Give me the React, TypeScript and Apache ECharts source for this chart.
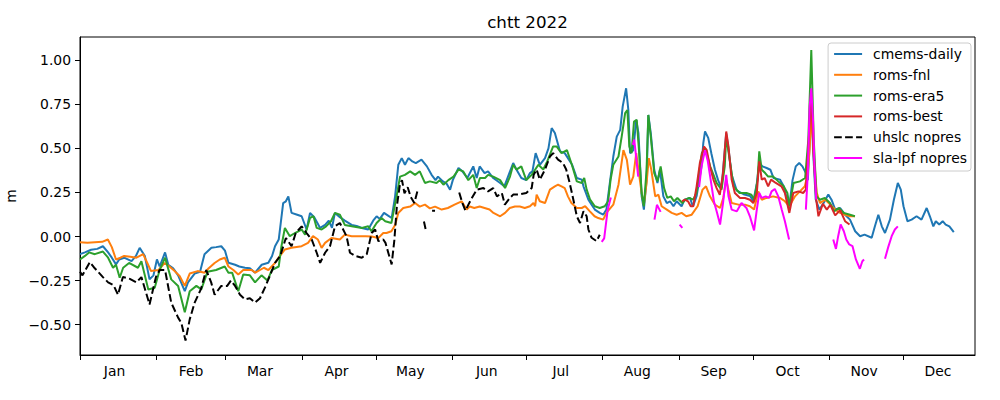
import React, { useEffect, useRef } from "react";
import * as echarts from "echarts";

// x = day of year 2022 (0 = 1 Jan), y = metres; null marks a gap
const cmemsDaily = [
  [0,-0.10],[2,-0.09],[4.5,-0.075],[7,-0.07],[9.3,-0.055],[11.4,-0.09],[12.9,-0.12],[14.6,-0.158],[15.9,-0.13],[17.9,-0.12],[20.9,-0.14],[22.7,-0.11],[24.2,-0.064],[26.3,-0.11],[28.2,-0.243],[29.8,-0.22],[31.2,-0.13],[32.3,-0.17],[34.5,-0.09],[35.8,-0.16],[37.8,-0.18],[39.8,-0.22],[42.5,-0.31],[43.8,-0.26],[46.5,-0.21],[48.7,-0.20],[50.5,-0.10],[53.3,-0.064],[55.2,-0.06],[57.3,-0.055],[58.8,-0.08],[60.2,-0.149],[62.9,-0.16],[64.6,-0.17],[66.9,-0.177],[68.9,-0.18],[71.0,-0.205],[73.7,-0.16],[76.4,-0.149],[77.9,-0.11],[79.1,-0.055],[80.6,-0.017],[82.4,0.19],[83.5,0.2],[84.5,0.228],[85.8,0.134],[87.8,0.125],[89.9,0.115],[91.9,0.04],[93.3,0.134],[95.0,0.11],[97.4,0.049],[99.4,0.066],[100.9,0.09],[102.2,0.05],[103.4,0.134],[105.4,0.11],[107.4,0.09],[110.2,0.066],[112.2,0.06],[114.3,0.049],[116.9,0.04],[118.9,0.09],[120.3,0.115],[121.6,0.10],[123.3,0.134],[124.8,0.12],[126.4,0.105],[127.8,0.228],[129.1,0.407],[130.5,0.445],[131.8,0.407],[133.2,0.445],[134.8,0.426],[136.2,0.417],[138.5,0.436],[140.7,0.398],[142.6,0.35],[144.2,0.32],[145.2,0.34],[147.2,0.313],[148.7,0.3],[150.1,0.266],[151.2,0.32],[153.5,0.389],[155.1,0.37],[157.1,0.332],[159.5,0.398],[160.9,0.332],[162.1,0.398],[164.1,0.36],[165.5,0.37],[167.6,0.332],[170.4,0.304],[172.1,0.285],[173.6,0.34],[175.7,0.417],[177.0,0.38],[179.0,0.332],[181.0,0.32],[182.5,0.36],[183.5,0.37],[184.8,0.473],[186.5,0.407],[188.6,0.445],[190.0,0.5],[191.3,0.615],[192.6,0.587],[194.7,0.483],[196.6,0.473],[197.9,0.445],[199.6,0.407],[201.5,0.332],[203.5,0.323],[204.2,0.285],[206.2,0.209],[207.5,0.181],[208.8,0.153],[210.8,0.134],[212.2,0.124],[213.5,0.153],[214.9,0.304],[216.3,0.454],[217.7,0.567],[219.1,0.605],[220.1,0.737],[221.5,0.841],[222.4,0.718],[223.1,0.473],[224.4,0.49],[225.6,0.662],[226.5,0.587],[227.8,0.228],[228.7,0.153],[229.8,0.323],[230.5,0.69],[231.5,0.587],[232.9,0.379],[234.2,0.304],[235.2,0.379],[236.6,0.228],[238.0,0.19],[239.3,0.2],[240.7,0.172],[242.0,0.2],[244.0,0.172],[245.2,0.209],[247.4,0.219],[248.6,0.17],[250.1,0.23],[252.1,0.40],[252.8,0.53],[253.5,0.596],[254.8,0.56],[256.1,0.47],[257.5,0.38],[258.8,0.32],[260.2,0.275],[261.2,0.44],[262.1,0.585],[263.0,0.5],[264.3,0.35],[266.4,0.26],[269.1,0.24],[271.8,0.23],[273.1,0.2],[274.5,0.30],[275.5,0.417],[276.8,0.398],[278.5,0.389],[280.0,0.379],[281.3,0.332],[283.9,0.323],[285.4,0.285],[287.6,0.162],[289.0,0.32],[290.3,0.398],[291.7,0.417],[293.0,0.398],[294.4,0.36],[295.2,0.32],[296.0,0.55],[296.6,0.8],[297.3,0.5],[298.4,0.21],[299.9,0.153],[301.6,0.19],[303.5,0.238],[304.8,0.209],[306.3,0.153],[308.3,0.162],[310.3,0.124],[312.3,0.096],[314.4,0.03],[316.4,0.002],[318.2,0.011],[321.1,-0.007],[322.4,0.058],[323.8,0.124],[325.2,0.058],[326.5,0.02],[328.5,0.096],[330.1,0.209],[331.7,0.304],[332.9,0.266],[334.0,0.172],[335.6,0.087],[337.3,0.096],[339.3,0.115],[341.3,0.096],[343.4,0.162],[344.7,0.115],[346.1,0.058],[347.1,0.087],[348.5,0.068],[349.9,0.087],[351.1,0.068],[352.6,0.058],[354.4,0.025]
];

const romsFnl = [
  [0,-0.032],[3,-0.035],[6,-0.032],[9,-0.03],[11.3,-0.017],[12.9,-0.06],[14.6,-0.13],[16.4,-0.12],[17.9,-0.11],[20.4,-0.115],[22.9,-0.12],[25.6,-0.10],[27.3,-0.15],[28.8,-0.196],[31.8,-0.19],[34.3,-0.15],[36.3,-0.17],[38.4,-0.196],[40.4,-0.224],[42.5,-0.28],[44.5,-0.21],[47.7,-0.196],[50.5,-0.205],[52.2,-0.18],[54.6,-0.15],[56.7,-0.13],[58.7,-0.12],[60.2,-0.17],[62.2,-0.19],[64.2,-0.215],[66.2,-0.19],[69.6,-0.19],[71.1,-0.205],[74.6,-0.177],[76.4,-0.19],[79.1,-0.149],[81.1,-0.11],[83.1,-0.073],[85.8,-0.064],[89.9,-0.055],[92.5,-0.036],[94.5,0.002],[96.5,-0.017],[98.0,-0.064],[99.4,-0.036],[102.0,-0.008],[105.4,-0.017],[107.4,0.011],[110.2,0.002],[113.4,0.002],[115.9,0.002],[118.3,0.0],[121.0,-0.008],[123.0,0.02],[124.3,0.02],[126.3,0.03],[127.8,0.066],[129.1,0.134],[131.1,0.162],[133.9,0.17],[135.9,0.19],[137.8,0.17],[139.9,0.181],[141.9,0.16],[144.0,0.17],[146.7,0.153],[149.2,0.162],[151.9,0.181],[154.8,0.2],[156.8,0.153],[158.1,0.17],[159.9,0.162],[162.1,0.17],[164.1,0.162],[166.1,0.153],[167.7,0.134],[170.4,0.115],[172.4,0.134],[174.3,0.162],[176.4,0.17],[178.4,0.17],[180.4,0.162],[182.5,0.172],[183.9,0.19],[184.6,0.172],[185.2,0.238],[186.5,0.2],[188.6,0.19],[190.6,0.266],[192.6,0.285],[193.9,0.294],[195.3,0.285],[196.6,0.275],[197.9,0.228],[199.3,0.19],[201.5,0.162],[203.5,0.162],[204.9,0.172],[206.8,0.143],[208.7,0.115],[210.2,0.105],[212.2,0.096],[213.5,0.134],[216.3,0.181],[218.4,0.294],[220.4,0.49],[221.8,0.435],[223.1,0.294],[224.4,0.34],[225.6,0.473],[226.5,0.38],[227.8,0.247],[228.7,0.181],[229.8,0.304],[230.7,0.445],[231.7,0.38],[233.3,0.228],[234.6,0.237],[235.9,0.172],[238.0,0.153],[240.0,0.134],[242.0,0.124],[244.0,0.134],[245.9,0.115],[248.1,0.124],[250.5,0.172],[252.5,0.266],[253.9,0.285],[255.5,0.228],[257.5,0.181],[259.6,0.162],[260.9,0.219],[262.1,0.323],[263.0,0.266],[264.3,0.19],[267.1,0.181],[269.7,0.181],[271.7,0.172],[273.4,0.153],[275.1,0.256],[276.5,0.209],[278.4,0.219],[281.1,0.228],[283.9,0.219],[285.9,0.2],[287.7,0.172],[290.0,0.228],[292.0,0.256],[294.0,0.285],[295.2,0.36],[295.9,0.49],[296.6,0.7],[297.7,0.45],[298.8,0.25],[300.1,0.19],[302.3,0.209],[304.3,0.181],[306.3,0.153],[308.3,0.134],[310.3,0.124],[312.3,0.115],[314.3,0.115]
];

const romsEra5 = [
  [0,-0.13],[2,-0.11],[3.7,-0.09],[6,-0.10],[9.3,-0.085],[11.4,-0.12],[13.4,-0.177],[14.6,-0.16],[16.1,-0.234],[17.5,-0.177],[19.9,-0.15],[23.5,-0.177],[24.9,-0.14],[27.7,-0.30],[30.3,-0.29],[32.3,-0.19],[34.5,-0.12],[37.0,-0.243],[39.8,-0.28],[42.5,-0.43],[44.5,-0.31],[47.2,-0.28],[49.2,-0.30],[51.7,-0.20],[55.2,-0.19],[58.7,-0.17],[60.2,-0.205],[61.7,-0.205],[64.2,-0.31],[66.2,-0.215],[68.9,-0.22],[71.0,-0.26],[73.6,-0.22],[76.0,-0.25],[77.8,-0.19],[80.6,-0.17],[81.7,-0.055],[83.1,0.049],[85.1,0.002],[87.2,0.02],[89.9,0.04],[91.3,0.011],[93.3,0.106],[94.7,0.115],[96.0,0.049],[98.0,0.04],[99.8,0.058],[101.8,0.087],[103.4,0.134],[105.4,0.124],[107.4,0.066],[110.2,0.058],[114.3,0.049],[116.9,0.058],[118.2,0.03],[120.3,0.077],[122.3,0.105],[123.8,0.087],[126.3,0.077],[128.4,0.228],[129.8,0.34],[131.8,0.35],[133.9,0.37],[135.9,0.35],[137.8,0.37],[139.9,0.304],[141.9,0.313],[144.6,0.304],[145.9,0.32],[147.4,0.294],[149.4,0.32],[151.5,0.34],[153.5,0.38],[155.4,0.37],[157.5,0.32],[159.5,0.35],[160.9,0.275],[162.2,0.332],[164.3,0.332],[165.5,0.35],[167.6,0.34],[170.4,0.32],[172.4,0.275],[174.4,0.34],[175.7,0.407],[177.0,0.38],[179.0,0.398],[181.0,0.32],[183.2,0.35],[185.9,0.407],[187.9,0.38],[189.5,0.426],[191.9,0.511],[193.3,0.511],[195.3,0.473],[197.5,0.49],[199.5,0.407],[201.5,0.313],[203.5,0.304],[204.5,0.332],[205.5,0.266],[206.9,0.209],[208.8,0.172],[210.8,0.162],[212.8,0.172],[214.2,0.2],[215.2,0.323],[216.3,0.407],[218.4,0.454],[219.7,0.567],[221.1,0.7],[222.0,0.718],[222.8,0.511],[223.7,0.473],[224.7,0.652],[225.8,0.662],[226.8,0.473],[227.8,0.247],[228.7,0.172],[229.8,0.38],[230.5,0.69],[231.5,0.567],[232.9,0.36],[234.2,0.313],[235.5,0.398],[236.9,0.275],[238.2,0.219],[239.6,0.228],[240.9,0.2],[242.3,0.219],[244.3,0.19],[245.5,0.209],[247.1,0.219],[248.7,0.209],[250.1,0.25],[251.1,0.36],[252.2,0.473],[253.6,0.5],[255.6,0.398],[258.2,0.304],[260.2,0.266],[261.5,0.398],[262.1,0.568],[263.5,0.436],[265.1,0.285],[267.5,0.247],[270.3,0.247],[272.3,0.237],[273.5,0.209],[274.8,0.323],[275.5,0.483],[276.5,0.379],[277.9,0.36],[279.1,0.34],[281.2,0.34],[283.2,0.313],[285.4,0.285],[286.9,0.247],[287.7,0.172],[289.4,0.304],[292.0,0.313],[294.1,0.332],[295.4,0.55],[296.6,1.058],[297.6,0.55],[298.7,0.228],[300.1,0.209],[302.1,0.219],[304.2,0.19],[305.8,0.143],[307.8,0.162],[309.8,0.134],[312.3,0.124],[314.3,0.115]
];

const romsBest = [
  [244.2,0.20],[245.3,0.209],[246.6,0.20],[247.7,0.172],[248.7,0.172],[250.1,0.285],[251.4,0.417],[253.1,0.511],[254.2,0.49],[255.5,0.398],[256.9,0.323],[258.2,0.275],[259.5,0.237],[260.8,0.36],[262.1,0.596],[263.0,0.511],[264.3,0.323],[265.6,0.247],[267.7,0.219],[269.7,0.219],[271.7,0.209],[273.1,0.19],[274.5,0.247],[275.5,0.426],[276.5,0.323],[277.7,0.332],[279.1,0.285],[280.3,0.323],[282.2,0.304],[284.5,0.285],[285.9,0.247],[287.7,0.134],[289.3,0.247],[291.4,0.256],[293.3,0.247],[294.4,0.266],[295.4,0.511],[296.6,0.8],[297.6,0.45],[298.6,0.21],[299.5,0.115],[301.3,0.185],[302.9,0.153],[304.3,0.18],[306.3,0.12],[308.3,0.15],[310.3,0.087],[312.1,0.068]
];

const uhslcNopres = [
  [0,-0.20],[1,-0.22],[4,-0.145],[6,-0.18],[9.3,-0.23],[11.4,-0.26],[13.6,-0.276],[15.4,-0.33],[17.4,-0.23],[20.2,-0.24],[22.9,-0.26],[24.9,-0.23],[26.4,-0.30],[28.2,-0.385],[30.8,-0.23],[32.3,-0.19],[34.5,-0.19],[37.0,-0.375],[39.8,-0.46],[41.1,-0.49],[42.8,-0.59],[44.5,-0.47],[46.5,-0.375],[49.0,-0.30],[51.2,-0.19],[53.2,-0.26],[54.6,-0.33],[57.3,-0.28],[59.7,-0.28],[61.2,-0.25],[62.9,-0.28],[64.9,-0.33],[66.9,-0.356],[68.9,-0.35],[71.0,-0.375],[73.0,-0.35],[75.0,-0.29],[77.1,-0.22],[79.1,-0.149],[81.2,-0.11],[83.5,-0.008],[85.8,-0.055],[87.5,0.02],[89.9,0.058],[91.9,0.02],[94.0,-0.017],[96.0,-0.092],[97.4,-0.149],[99.4,-0.092],[101.4,-0.055],[103.4,0.058],[105.4,0.077],[108.1,0.002],[109.5,-0.092],[111.6,-0.11],[114.3,-0.12],[116.3,-0.10],[118.3,0.02],[119.7,0.04],[121.0,-0.026],[123.0,-0.017],[123.9,-0.036],[125.0,-0.09],[126.4,-0.158],[127.5,-0.02],[128.5,0.17],[129.8,0.30],[130.6,0.32],[131.6,0.245],[132.9,0.28],[134.1,0.226],[135.6,0.19],[136.9,0.26],[138.2,null],[139.5,0.085],[140.2,0.04],[141.2,null],[142.8,0.147],[144.0,0.147],[149.2,null],[153.8,0.25],[155.1,0.19],[156.3,0.147],[158.6,0.21],[160.9,0.266],[163.6,0.275],[165.5,0.256],[167.6,0.275],[169.1,0.228],[171.1,0.247],[172.3,0.181],[174.3,0.218],[175.7,0.238],[178.0,0.238],[181.0,0.247],[183.2,0.275],[184.0,0.35],[185.2,0.38],[186.5,0.323],[188.6,0.38],[190.6,0.454],[191.9,0.473],[193.9,0.436],[195.9,0.417],[197.2,0.38],[198.6,0.304],[200.1,0.209],[201.5,0.115],[202.8,0.077],[204.2,0.143],[205.5,0.115],[206.2,0.04],[207.5,-0.007],[209.5,-0.026],[210.8,0.01]
];

const slaLpfNopres = [
  [211.6,-0.03],[212.6,-0.01],[214.0,0.15],[215.3,0.222],[218.8,null],[224.2,0.52],[224.8,0.55],[225.6,0.445],[226.4,0.34],[228.7,null],[233.0,0.096],[234.0,0.18],[235.5,0.14],[238.7,null],[243.2,0.068],[244.3,0.049],[246.6,null],[251.1,0.28],[252.1,0.40],[253.5,0.49],[254.6,0.43],[256.2,0.285],[257.1,0.2],[258.4,0.134],[259.6,0.068],[260.8,0.19],[262.1,0.35],[263.0,0.23],[264.3,0.153],[266.4,0.143],[268.3,0.19],[270.3,0.162],[271.7,0.115],[273.4,0.035],[274.5,0.153],[275.5,0.247],[276.5,0.219],[278.1,0.228],[279.5,0.219],[280.5,0.256],[281.8,0.27],[283.2,0.228],[284.6,0.153],[285.9,0.087],[287.6,-0.017],[290.4,null],[294.4,0.153],[295.2,0.36],[295.9,0.73],[296.6,0.841],[297.3,0.66],[297.9,0.40],[298.6,0.21],[301.3,null],[305.5,-0.017],[306.6,-0.07],[307.5,0.002],[308.5,0.068],[309.8,0.03],[310.8,-0.017],[312.0,-0.045],[313.3,-0.054],[314.7,-0.13],[316.3,-0.183],[317.3,-0.14],[318.0,-0.13],[322.2,null],[326.5,-0.126],[327.8,-0.06],[329.2,0.002],[330.5,0.04],[331.7,0.058]
];

const monthNames = ["Jan","Feb","Mar","Apr","May","Jun","Jul","Aug","Sep","Oct","Nov","Dec"];
const monthStarts = [0,31,59,90,120,151,181,212,243,273,304,334];
// month labels sit on the 15th of each month
const monthLabelDays = [14,45,73,104,134,165,195,226,257,287,318,348];
const yTicks = [-0.5,-0.25,0,0.25,0.5,0.75,1.0];

const FONT = "DejaVu Sans";

const toData = (arr: any[]) => arr.map(([d, v]) => [d, v === null ? "-" : v]);

export default function App() {
  const ref = useRef<HTMLDivElement>(null);
  useEffect(() => {
    document.body.style.margin = "0";
    const chart = echarts.init(ref.current!, undefined, { renderer: "svg" });
    const mk = (name: string, data: any[], color: string, dashed = false) => ({
      name,
      type: "line",
      data: toData(data),
      showSymbol: false,
      symbol: "none",
      connectNulls: false,
      lineStyle: { color, width: 2, type: dashed ? [7.7, 3.3] : "solid" },
      itemStyle: { color },
    });
    chart.setOption({
      animation: false,
      textStyle: { fontFamily: FONT },
      grid: {
        left: 80, right: 25, top: 37, bottom: 45,
        show: true, borderColor: "#000", borderWidth: 1,
        containLabel: false, outerBoundsMode: "none",
      },
      graphic: [
        {
          type: "text",
          x: 527.5,
          y: 22,
          style: { text: "chtt 2022", fontFamily: FONT, fontSize: 16.7, fill: "#000", textAlign: "center", textVerticalAlign: "middle" },
        },
      ],
      legend: {
        orient: "vertical",
        right: 29,
        top: 43,
        itemWidth: 28,
        itemHeight: 14,
        itemGap: 6.8,
        padding: [4, 4, 6, 5],
        backgroundColor: "rgba(255,255,255,0.8)",
        borderColor: "#cccccc",
        borderWidth: 1,
        borderRadius: 3,
        itemStyle: { opacity: 0 },
        textStyle: { fontFamily: FONT, fontSize: 13.9, color: "#000", padding: [0, 0, 0, 6] },
        data: ["cmems-daily", "roms-fnl", "roms-era5", "roms-best", "uhslc nopres", "sla-lpf nopres"],
      },
      xAxis: {
        type: "value",
        min: 0,
        max: 363,
        axisLine: { show: true, onZero: false, lineStyle: { color: "#000", width: 1 } },
        axisTick: { show: true, length: 5, lineStyle: { color: "#000", width: 1 }, customValues: monthStarts },
        axisLabel: {
          color: "#000",
          fontFamily: FONT,
          fontSize: 13.9,
          margin: 9,
          customValues: monthLabelDays,
          formatter: (v: number) => {
            const i = monthLabelDays.findIndex((m) => Math.abs(m - v) < 0.01);
            return i >= 0 ? monthNames[i] : "";
          },
        },
        splitLine: { show: false },
      },
      yAxis: {
        type: "value",
        min: -0.672,
        max: 1.132,
        name: "m",
        nameLocation: "middle",
        nameGap: 58,
        nameRotate: 90,
        nameTextStyle: { fontFamily: FONT, fontSize: 13.9, color: "#000" },
        axisLine: { show: true, onZero: false, lineStyle: { color: "#000", width: 1 } },
        axisTick: { show: true, length: 5, lineStyle: { color: "#000", width: 1 }, customValues: yTicks },
        axisLabel: {
          color: "#000",
          fontFamily: FONT,
          fontSize: 13.9,
          margin: 9,
          customValues: yTicks,
          formatter: (v: number) => (v < 0 ? "\u2212" : "") + Math.abs(v).toFixed(2),
        },
        splitLine: { show: false },
      },
      series: [
        mk("cmems-daily", cmemsDaily, "#1f77b4"),
        mk("roms-fnl", romsFnl, "#ff7f0e"),
        mk("roms-era5", romsEra5, "#2ca02c"),
        mk("roms-best", romsBest, "#d62728"),
        mk("uhslc nopres", uhslcNopres, "#000000", true),
        mk("sla-lpf nopres", slaLpfNopres, "#ff00ff"),
      ],
    });
    return () => chart.dispose();
  }, []);
  return <div ref={ref} style={{ position: "absolute", left: 0, top: 0, width: 1000, height: 400 }} />;
}
